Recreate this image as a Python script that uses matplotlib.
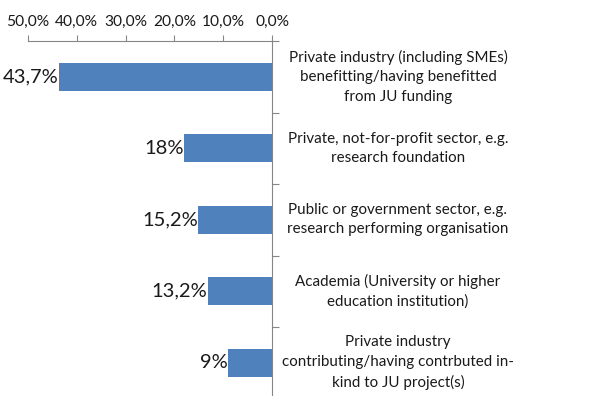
import matplotlib
matplotlib.use("Agg")
import matplotlib.pyplot as plt
from matplotlib.ticker import FuncFormatter, FixedLocator, NullLocator
import numpy as np

categories = [
    "Private industry (including SMEs)\nbenefitting/having benefitted\nfrom JU funding",
    "Private, not-for-profit sector, e.g.\nresearch foundation",
    "Public or government sector, e.g.\nresearch performing organisation",
    "Academia (University or higher\neducation institution)",
    "Private industry\ncontributing/having contrbuted in-\nkind to JU project(s)",
]
values = [43.7, 18.0, 15.2, 13.2, 9.0]
value_labels = ["43,7%", "18%", "15,2%", "13,2%", "9%"]
xticks = [0, 10, 20, 30, 40, 50]

plt.rcParams['font.family'] = ['Lato', 'DejaVu Sans']

fig = plt.figure(figsize=(6.07, 3.96), dpi=100)
ax = fig.add_axes([28/607, 1 - 398.5/396, (272-28)/607, (398.5-41)/396])

axis_color = "#868686"
bar_color = "#4F81BD"

y = np.arange(len(categories))
ax.barh(y, values, height=0.39, color=bar_color)

ax.set_xlim(50, 0)
ax.set_ylim(len(categories) - 0.5, -0.5)

# top x axis
ax.xaxis.tick_top()
ax.xaxis.set_major_locator(FixedLocator(xticks))
ax.xaxis.set_major_formatter(FuncFormatter(lambda v, p: f"{v:.1f}%".replace(".", ",")))
ax.tick_params(axis='x', direction='out', length=4, width=0.8, color=axis_color,
               labelsize=11.2, pad=5, labelcolor="#1a1a1a")

# right y axis with ticks between categories
ax.yaxis.tick_right()
ax.yaxis.set_major_locator(NullLocator())
ax.yaxis.set_minor_locator(FixedLocator(np.arange(-0.5, len(categories), 1.0)))
ax.tick_params(axis='y', which='minor', direction='out', length=5, width=0.8, color=axis_color)

for s in ['left', 'bottom']:
    ax.spines[s].set_visible(False)
for s in ['top', 'right']:
    ax.spines[s].set_color(axis_color)
    ax.spines[s].set_linewidth(0.8)

# category labels
for i, c in enumerate(categories):
    ax.annotate(c, xy=(1, i), xycoords=ax.get_yaxis_transform(),
                xytext=(126 * 0.72, 0), textcoords='offset points',
                ha='center', va='center', fontsize=10.9, color="#1a1a1a",
                linespacing=1.5)

# value labels
for i, (v, lab) in enumerate(zip(values, value_labels)):
    ax.annotate(lab, xy=(v, i), xytext=(0, 0), textcoords='offset points',
                ha='right', va='center', fontsize=14.5, color="#1a1a1a")

fig.savefig("out.png", dpi=100)
